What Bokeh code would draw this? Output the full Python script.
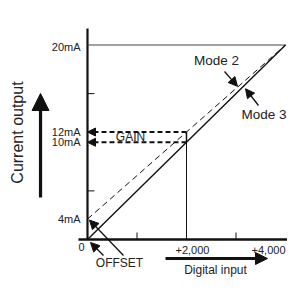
from bokeh.plotting import figure
from bokeh.models import Range1d, Arrow, NormalHead
from bokeh.core.properties import value
from bokeh.embed import file_html
from bokeh.resources import INLINE
import math

FONT = "Liberation Sans"
INK = "#111111"
TXT = "#222222"

# ---- data (x: digital input, y: schematic current level) ----
digital_input = [0, 2000, 4000]
mode3_output = [0, 10.0, 20]        # solid line: 0 mA -> 20 mA
mode2_output = [2.1, 11.05, 20]     # dashed line: 4 mA -> 20 mA
x_minor_ticks = [1000, 3000]
y_minor_ticks = [5, 15]
x_tick_values = [2000, 4000]
x_tick_labels = ["+2,000", "+4,000"]
y_tick_values = [20, 11.05, 10.0, 2.1]
y_tick_labels = ["20mA", "12mA", "10mA", "4mA"]
gain_levels = [11.05, 10.0]
axis_top = 21.7

p = figure(width=287, height=277, output_backend="svg", toolbar_location=None,
           x_range=Range1d(-1757.6, 4040.4), y_range=Range1d(-3.907, 24.576),
           min_border=0, outline_line_color=None)
p.axis.visible = False
p.grid.visible = False
p.background_fill_color = "white"

# axes
p.segment(x0=[0], y0=[0], x1=[0], y1=[axis_top], line_color=INK, line_width=2.2)
p.segment(x0=[-182], y0=[0], x1=[4100], y1=[0], line_color=INK, line_width=2.5)
# minor ticks
p.segment(x0=x_minor_ticks, y0=[0] * 2, x1=x_minor_ticks, y1=[0.72] * 2, line_color=INK, line_width=1)
p.segment(x0=[0] * 2, y0=y_minor_ticks, x1=[141] * 2, y1=y_minor_ticks, line_color=INK, line_width=1)

# 20 mA line and 2,000 drop line
p.segment(x0=[0], y0=[mode3_output[-1]], x1=[digital_input[-1]], y1=[mode3_output[-1]],
          line_color="#444444", line_width=1)
p.segment(x0=[digital_input[1]], y0=[0], x1=[digital_input[1]], y1=[mode3_output[1]],
          line_color=INK, line_width=1)

# mode lines
p.line(digital_input, mode3_output, line_color=INK, line_width=1.4)
p.line(digital_input, mode2_output, line_color=INK, line_width=1, line_dash="6 4")

# gain box
for lvl in gain_levels:
    p.add_layout(Arrow(end=NormalHead(size=8, fill_color=INK, line_color=INK),
                       x_start=digital_input[1], y_start=lvl, x_end=0, y_end=lvl,
                       line_color=INK, line_width=2, line_dash="5 3"))
p.segment(x0=[digital_input[1]], y0=[gain_levels[1]], x1=[digital_input[1]], y1=[gain_levels[0]],
          line_color=INK, line_width=1.5)

# annotation arrows (start x, start y, end x, end y)
ann_arrows = [
    (2768, 17.27, 3030, 15.75),   # Mode 2
    (3454, 13.78, 3192, 15.5),    # Mode 3
    (727, -1.65, 40, 2.0),        # OFFSET -> 4 mA
    (323, -1.65, 61, -0.31),      # OFFSET -> 0
]
for xs, ys, xe, ye in ann_arrows:
    p.add_layout(Arrow(end=NormalHead(size=9, fill_color=INK, line_color=INK),
                       x_start=xs, y_start=ys, x_end=xe, y_end=ye,
                       line_color=INK, line_width=1.3))

# big direction arrows
p.add_layout(Arrow(end=NormalHead(size=17, fill_color=INK, line_color=INK),
                   x_start=-949, y_start=4.32, x_end=-949, y_end=15.01,
                   line_color=INK, line_width=3.2))
p.add_layout(Arrow(end=NormalHead(size=12, fill_color=INK, line_color=INK),
                   x_start=1576, y_start=-1.954, x_end=3636, y_end=-1.954,
                   line_color=INK, line_width=3.2))

# tick labels
p.text(x=[-141] * 4, y=y_tick_values, text=y_tick_labels, text_align="right",
       text_baseline="middle", text_font=value(FONT), text_font_size="11px",
       text_color=TXT, y_offset=[2, 0, 0, 0])
p.text(x=[-121], y=[-0.82], text=["0"], text_align="center", text_baseline="middle",
       text_font=value(FONT), text_font_size="11px", text_color=TXT)
p.text(x=x_tick_values[:1], y=[-1.028], text=x_tick_labels[:1], text_align="center",
       text_baseline="middle", text_font=value(FONT), text_font_size="11px",
       text_color=TXT, x_offset=6)
p.text(x=x_tick_values[1:], y=[-1.028], text=x_tick_labels[1:], text_align="right",
       text_baseline="middle", text_font=value(FONT), text_font_size="11px",
       text_color=TXT, x_offset=0)

# annotation texts
p.text(x=[869], y=[10.55], text=["GAIN"], text_align="center", text_baseline="middle",
       text_font=value(FONT), text_font_size="12px", text_color=TXT)
p.text(x=[2606], y=[18.4], text=["Mode 2"], text_align="center", text_baseline="middle",
       text_font=value(FONT), text_font_size="13.5px", text_color=TXT)
p.text(x=[3111], y=[12.85], text=["Mode 3"], text_align="left", text_baseline="middle",
       text_font=value(FONT), text_font_size="13.5px", text_color=TXT)
p.text(x=[646], y=[-2.37], text=["OFFSET"], text_align="center", text_baseline="middle",
       text_font=value(FONT), text_font_size="12px", text_color=TXT)
p.text(x=[-1414], y=[11.0], text=["Current output"], text_align="center",
       text_baseline="middle", angle=math.pi / 2, text_font=value(FONT),
       text_font_size="16px", text_color=TXT)
p.text(x=[2586], y=[-3.085], text=["Digital input"], text_align="center",
       text_baseline="alphabetic", text_font=value(FONT),
       text_font_size="12px", text_color=TXT)

open("out.html", "w").write(file_html(p, INLINE))
